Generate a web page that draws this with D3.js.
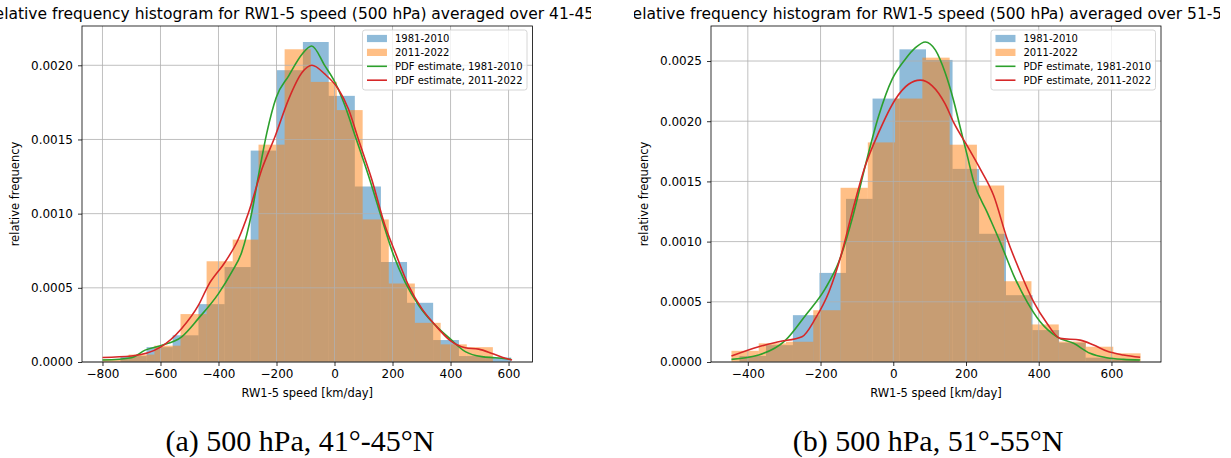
<!DOCTYPE html>
<meta charset="utf-8">
<style>
body { margin: 0; background: #fff; }
text { font-family: "DejaVu Sans", sans-serif; fill: #000; }
.grid line { stroke: #b0b0b0; stroke-width: 0.8; }
.caption { font-family: "Liberation Serif", serif; font-size: 30px; }
</style>
<body>
<script src="https://d3js.org/d3.v7.min.js"></script>
<script>

// ---- panel (a): 500 hPa, 41-45N ----
var aBlueEdges = [-738, -648, -558, -469, -379, -289, -199, -109, -20, 70, 160, 250, 340, 429, 519, 609];
var aBlueFreq = [0.00004, 0.00010, 0.00018, 0.00039, 0.00064, 0.001425, 0.001967, 0.002157, 0.001794, 0.001183, 0.000674, 0.000399, 0.000148, 0.00004, 0.00003];
var aOrangeEdges = [-800, -710, -621, -531, -441, -351, -262, -172, -82, 8, 97, 187, 277, 366, 456, 546];
var aOrangeFreq = [0.00002, 0.00005, 0.00011, 0.000323, 0.000679, 0.000825, 0.001465, 0.002108, 0.001888, 0.001698, 0.000961, 0.000529, 0.000264, 0.000119, 0.0001];
var aGreenX = [-800, -700, -653, -600, -527, -469, -400, -354, -320, -285, -262, -233, -201, -158, -112, -79, -33, 2, 36, 71, 117, 163, 200, 243, 290, 336, 397, 451, 508, 554, 609];
var aGreenY = [0.000013, 0.000029, 0.00008, 0.00011, 0.00017, 0.000294, 0.000461, 0.000607, 0.00074, 0.00101, 0.001257, 0.001548, 0.001783, 0.001929, 0.002074, 0.00213, 0.001996, 0.001884, 0.001727, 0.001525, 0.001257, 0.000966, 0.00074, 0.00054, 0.000383, 0.000271, 0.000159, 0.00007, 0.000036, 0.000029, 0.000018];
var aRedX = [-800, -700, -600, -527, -469, -435, -377, -331, -296, -250, -204, -158, -112, -78, -33, 13, 48, 82, 128, 174, 209, 255, 301, 347, 397, 451, 497, 543, 589, 612];
var aRedY = [0.00003, 0.00004, 0.0001, 0.000226, 0.000383, 0.000517, 0.000674, 0.000831, 0.00101, 0.001302, 0.001525, 0.001772, 0.001951, 0.002, 0.00194, 0.00184, 0.001705, 0.001503, 0.001234, 0.00092, 0.00074, 0.000517, 0.00036, 0.000249, 0.000148, 0.000096, 0.000087, 0.000058, 0.000025, 0.000013];
var aXTicks = [-800, -600, -400, -200, 0, 200, 400, 600];
var aYTicks = [0, 0.0005, 0.001, 0.0015, 0.002];

// ---- panel (b): 500 hPa, 51-55N ----
var bBlueEdges = [-423, -350, -276, -203, -130, -57, 17, 90, 163, 236, 310, 383, 456, 529, 603, 676];
var bBlueFreq = [0.00005, 0.00014, 0.000389, 0.00074, 0.001355, 0.002188, 0.002597, 0.002509, 0.001604, 0.001065, 0.000555, 0.000265, 0.00016, 0.000036, 0.00002];
var bOrangeEdges = [-445, -370, -295, -220, -145, -70, 5, 80, 155, 230, 305, 380, 455, 530, 605, 680];
var bOrangeFreq = [0.000093, 0.000155, 0.000168, 0.00043, 0.001447, 0.001824, 0.002188, 0.002528, 0.001805, 0.001466, 0.000671, 0.000312, 0.00017, 0.000127, 0.000072];
var bGreenX = [-445, -370, -296, -241, -187, -150, -113, -77, -40, -3, 33, 61, 88, 116, 143, 166, 184, 203, 221, 258, 294, 331, 368, 404, 450, 496, 541, 587, 633, 679];
var bGreenY = [0.000022, 0.000058, 0.000182, 0.000389, 0.00061, 0.00083, 0.00119, 0.00163, 0.002045, 0.002349, 0.002515, 0.002611, 0.002658, 0.00259, 0.0024, 0.00217, 0.00195, 0.00172, 0.0015, 0.001245, 0.000996, 0.00072, 0.000499, 0.000334, 0.000209, 0.000155, 0.000072, 0.000036, 0.000022, 0.000017];
var bRedX = [-445, -370, -315, -251, -214, -177, -141, -113, -77, -40, 6, 42, 74, 107, 143, 166, 203, 239, 276, 313, 349, 386, 423, 459, 514, 551, 587, 633, 679];
var bRedY = [0.00005, 0.000127, 0.000168, 0.00021, 0.000362, 0.000582, 0.000913, 0.001245, 0.00163, 0.001907, 0.002183, 0.002307, 0.002341, 0.002294, 0.002142, 0.00199, 0.001797, 0.001604, 0.001383, 0.001024, 0.000748, 0.000499, 0.00032, 0.000196, 0.000182, 0.000141, 0.000091, 0.000058, 0.000039];
var bXTicks = [-400, -200, 0, 200, 400, 600];
var bYTicks = [0, 0.0005, 0.001, 0.0015, 0.002, 0.0025];

var legendLabels = ["1981-2010", "2011-2022", "PDF estimate, 1981-2010", "PDF estimate, 2011-2022"];
var colors = {blue: "#1f77b4", orange: "#ff7f0e", green: "#2ca02c", red: "#d62728"};

var svg = d3.select("body").append("svg")
    .attr("width", 1231)
    .attr("height", 458);

function drawPanel(p) {
  var g = svg.append("g");

  // x limits like matplotlib: data extent + 5% margin
  var lo = d3.min([p.blueEdges[0], p.orangeEdges[0], p.greenX[0], p.redX[0]]),
      hi = d3.max([p.blueEdges[p.blueEdges.length - 1], p.orangeEdges[p.orangeEdges.length - 1],
                   p.greenX[p.greenX.length - 1], p.redX[p.redX.length - 1]]),
      pad = (hi - lo) * 0.05;
  var x = d3.scaleLinear().domain([lo - pad, hi + pad]).range([p.left, p.right]);
  var top = d3.max([d3.max(p.blueFreq), d3.max(p.orangeFreq), d3.max(p.greenY), d3.max(p.redY)]);
  var y = d3.scaleLinear().domain([0, top * 1.05]).range([p.bottom, p.top]);

  // bars
  function bars(edges, freq, color) {
    g.append("g").selectAll("rect")
        .data(freq)
      .enter().append("rect")
        .attr("x", function(d, i) { return x(edges[i]); })
        .attr("width", function(d, i) { return x(edges[i + 1]) - x(edges[i]); })
        .attr("y", function(d) { return y(d); })
        .attr("height", function(d) { return y(0) - y(d); })
        .attr("fill", color)
        .attr("fill-opacity", 0.5);
  }
  bars(p.blueEdges, p.blueFreq, colors.blue);
  bars(p.orangeEdges, p.orangeFreq, colors.orange);

  // grid
  var grid = g.append("g").attr("class", "grid");
  grid.selectAll(".gx").data(p.xTicks).enter().append("line")
      .attr("x1", function(d) { return x(d); }).attr("x2", function(d) { return x(d); })
      .attr("y1", p.top).attr("y2", p.bottom);
  grid.selectAll(".gy").data(p.yTicks).enter().append("line")
      .attr("x1", p.left).attr("x2", p.right)
      .attr("y1", function(d) { return y(d); }).attr("y2", function(d) { return y(d); });

  // kde lines
  function kde(xs, ys, color) {
    var line = d3.line()
        .x(function(d) { return x(d); })
        .y(function(d, i) { return y(ys[i]); })
        .curve(d3.curveMonotoneX);
    g.append("path")
        .attr("d", line(xs))
        .attr("fill", "none")
        .attr("stroke", color)
        .attr("stroke-width", 1.6);
  }
  kde(p.greenX, p.greenY, colors.green);
  kde(p.redX, p.redY, colors.red);

  // axes
  var xAxis = g.append("g")
      .attr("transform", "translate(0," + p.bottom + ")")
      .call(d3.axisBottom(x).tickValues(p.xTicks).tickSize(4).tickPadding(3.5).tickFormat(d3.format("d")));
  var yAxis = g.append("g")
      .attr("transform", "translate(" + p.left + ",0)")
      .call(d3.axisLeft(y).tickValues(p.yTicks).tickSize(4).tickPadding(5).tickFormat(d3.format(".4f")));
  [xAxis, yAxis].forEach(function(a) {
    a.select(".domain").remove();
    a.selectAll("text").attr("font-size", 12).attr("font-family", "DejaVu Sans").attr("fill", "#000");
    a.selectAll("line").attr("stroke", "#000").attr("stroke-width", 0.8);
  });

  // spines
  g.append("rect")
      .attr("x", p.left).attr("y", p.top)
      .attr("width", p.right - p.left).attr("height", p.bottom - p.top)
      .attr("fill", "none").attr("stroke", "#000").attr("stroke-width", 0.8);

  // axis labels
  g.append("text")
      .attr("x", (p.left + p.right) / 2).attr("y", p.bottom + 35)
      .attr("text-anchor", "middle").attr("font-size", 11.5)
      .text("RW1-5 speed [km/day]");
  g.append("text")
      .attr("transform", "translate(" + (p.left - 63) + "," + ((p.top + p.bottom) / 2) + ") rotate(-90)")
      .attr("text-anchor", "middle").attr("font-size", 11.5)
      .text("relative frequency");

  // title, cut off by the subfigure box as in the source figure
  var clipId = "clip" + p.id;
  svg.append("clipPath").attr("id", clipId)
    .append("rect").attr("x", p.clipX0).attr("y", 0).attr("width", p.clipX1 - p.clipX0).attr("height", 30);
  g.append("text")
      .attr("clip-path", "url(#" + clipId + ")")
      .attr("x", p.titleX).attr("y", 19)
      .attr("text-anchor", "middle").attr("font-size", 15.5)
      .text(p.title);

  // legend
  var leg = g.append("g");
  var box = leg.append("rect")
      .attr("fill", "#fff").attr("fill-opacity", 0.8)
      .attr("stroke", "#cccccc").attr("stroke-width", 0.8)
      .attr("rx", 2.5).attr("ry", 2.5);
  var rows = leg.selectAll(".row").data(legendLabels).enter().append("g")
      .attr("transform", function(d, i) { return "translate(0," + (8.5 + i * 13.9) + ")"; });
  var swatch = [colors.blue, colors.orange, colors.green, colors.red];
  rows.each(function(d, i) {
    var r = d3.select(this);
    if (i < 2) {
      r.append("rect").attr("x", 4.5).attr("y", -3.6).attr("width", 20).attr("height", 7.2)
          .attr("fill", swatch[i]).attr("fill-opacity", 0.5);
    } else {
      r.append("line").attr("x1", 4.5).attr("x2", 24.5).attr("y1", 0).attr("y2", 0)
          .attr("stroke", swatch[i]).attr("stroke-width", 1.6);
    }
    r.append("text").attr("x", 32.5).attr("dy", "0.35em").attr("font-size", 10).text(d);
  });
  var w = 0;
  rows.selectAll("text").each(function() { w = Math.max(w, this.getComputedTextLength()); });
  var bw = 32.5 + w + 4.5, bh = 60;
  box.attr("width", bw).attr("height", bh);
  leg.attr("transform", "translate(" + (p.right - 5.5 - bw) + "," + (p.top + 4) + ")");

  // caption
  svg.append("text")
      .attr("class", "caption")
      .attr("x", p.captionX).attr("y", 451)
      .attr("text-anchor", "middle")
      .text(p.caption);
}

drawPanel({
  id: "a", left: 82, right: 532.5, top: 26, bottom: 362, titleX: 299, clipX0: 0, clipX1: 591, captionX: 300,
  title: "Relative frequency histogram for RW1-5 speed (500 hPa) averaged over 41-45°N",
  caption: "(a) 500 hPa, 41°-45°N",
  blueEdges: aBlueEdges, blueFreq: aBlueFreq, orangeEdges: aOrangeEdges, orangeFreq: aOrangeFreq,
  greenX: aGreenX, greenY: aGreenY, redX: aRedX, redY: aRedY, xTicks: aXTicks, yTicks: aYTicks
});
drawPanel({
  id: "b", left: 711, right: 1161, top: 26, bottom: 362, titleX: 937, clipX0: 634, clipX1: 1220, captionX: 928,
  title: "Relative frequency histogram for RW1-5 speed (500 hPa) averaged over 51-55°N",
  caption: "(b) 500 hPa, 51°-55°N",
  blueEdges: bBlueEdges, blueFreq: bBlueFreq, orangeEdges: bOrangeEdges, orangeFreq: bOrangeFreq,
  greenX: bGreenX, greenY: bGreenY, redX: bRedX, redY: bRedY, xTicks: bXTicks, yTicks: bYTicks
});

</script>
</body>
